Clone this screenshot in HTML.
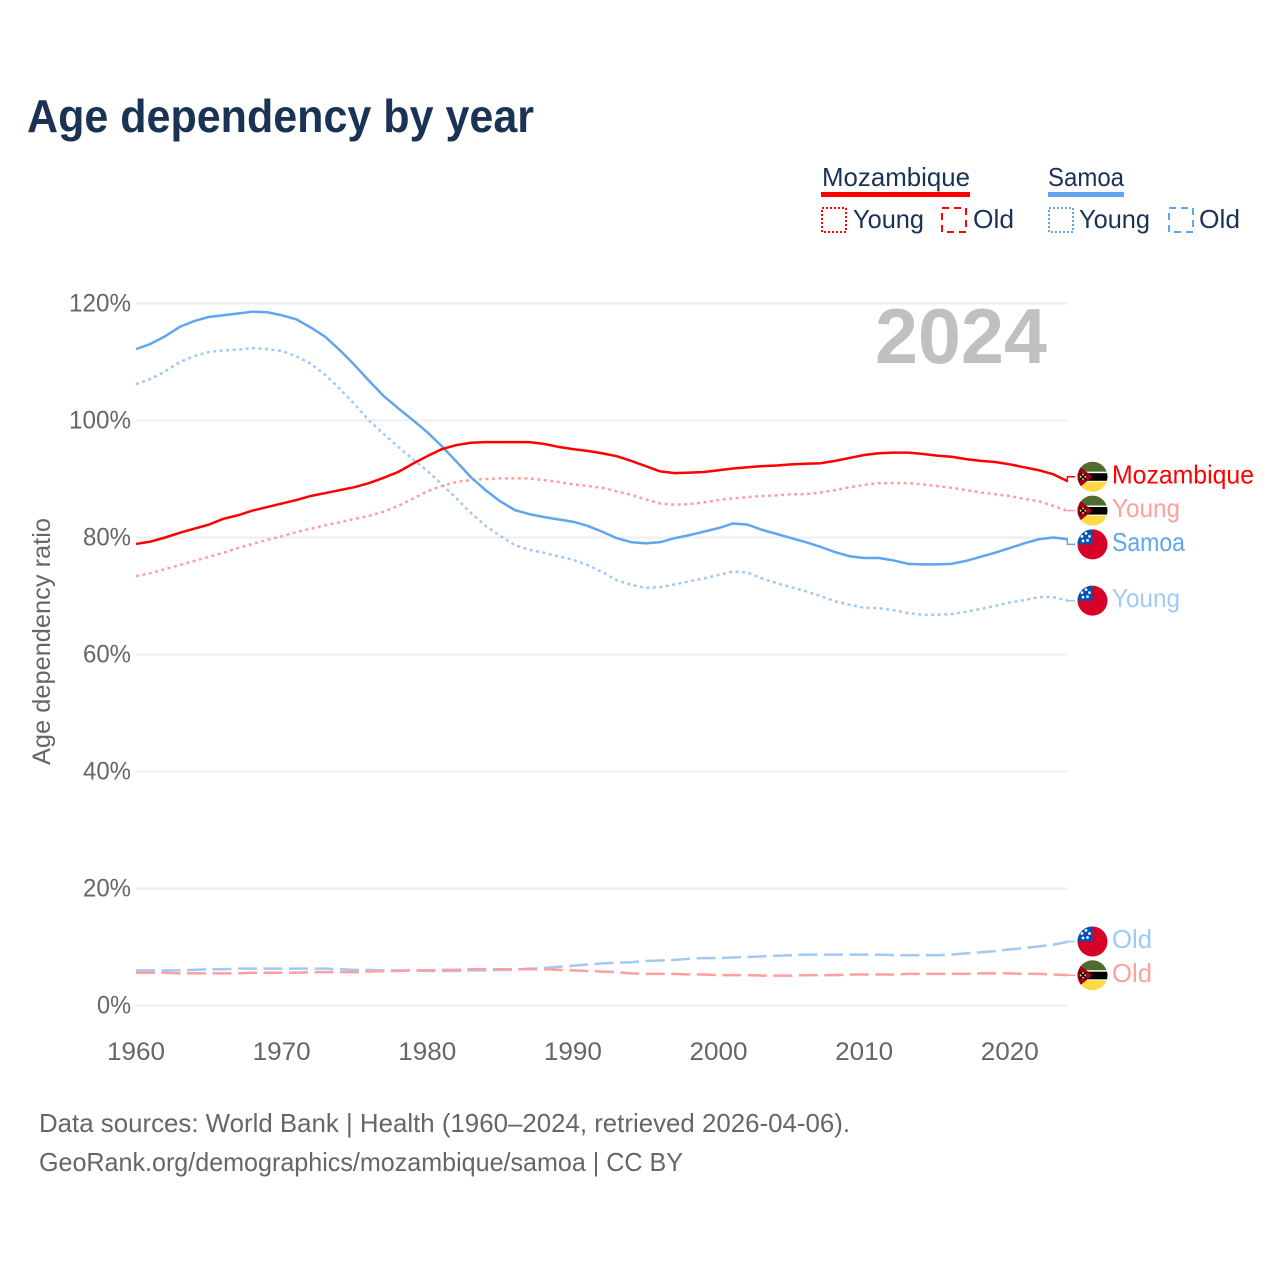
<!DOCTYPE html>
<html lang="en">
<head>
<meta charset="utf-8">
<title>Age dependency by year</title>
<style>
html,body{margin:0;padding:0;background:#fff;}
svg{display:block;font-family:"Liberation Sans",sans-serif;}
</style>
</head>
<body>
<svg id="chart" xmlns="http://www.w3.org/2000/svg" width="1280" height="1280" viewBox="0 0 1280 1280">
  <rect x="0" y="0" width="1280" height="1280" fill="#fff"/>
  <text x="27" y="132" font-size="46" font-weight="700" fill="#1a3354" textLength="507" lengthAdjust="spacingAndGlyphs">Age dependency by year</text>

  <g>
    <g>
      <text x="822" y="186" font-size="26" fill="#1a3354" textLength="148" lengthAdjust="spacingAndGlyphs">Mozambique</text>
      <rect x="821" y="192" width="149" height="5" fill="#ff0000"/>
      <rect x="822" y="208" width="24" height="24" fill="none" stroke="#ff0000" stroke-width="2" stroke-dasharray="2 2"/>
      <text x="853" y="228" font-size="26" fill="#1a3354" textLength="71" lengthAdjust="spacingAndGlyphs">Young</text>
      <rect x="942" y="208" width="24" height="24" fill="none" stroke="#ff0000" stroke-width="2" stroke-dasharray="7 5"/>
      <text x="973" y="228" font-size="26" fill="#1a3354" textLength="41" lengthAdjust="spacingAndGlyphs">Old</text>
    </g>
    <g>
      <text x="1048" y="186" font-size="26" fill="#1a3354" textLength="76" lengthAdjust="spacingAndGlyphs">Samoa</text>
      <rect x="1048" y="192" width="76" height="5" fill="#60a5ee"/>
      <rect x="1049" y="208" width="24" height="24" fill="none" stroke="#60a5ee" stroke-width="2" stroke-dasharray="2 2"/>
      <text x="1079" y="228" font-size="26" fill="#1a3354" textLength="71" lengthAdjust="spacingAndGlyphs">Young</text>
      <rect x="1169" y="208" width="24" height="24" fill="none" stroke="#60a5ee" stroke-width="2" stroke-dasharray="7 5"/>
      <text x="1199" y="228" font-size="26" fill="#1a3354" textLength="41" lengthAdjust="spacingAndGlyphs">Old</text>
    </g>
  </g>

  <g id="grid"></g>
  <text x="875" y="363" font-size="78" font-weight="700" fill="#c0c0c0" textLength="172" lengthAdjust="spacingAndGlyphs">2024</text>
  <g id="yticks"></g>
  <g id="xticks"></g>
  <text transform="translate(50,641.5) rotate(-90)" text-anchor="middle" font-size="25" fill="#666" textLength="247" lengthAdjust="spacingAndGlyphs">Age dependency ratio</text>
  <g id="series"></g>
  <g id="labels"></g>

  <text x="39" y="1132" font-size="26" fill="#666" textLength="811" lengthAdjust="spacingAndGlyphs">Data sources: World Bank | Health (1960–2024, retrieved 2026-04-06).</text>
  <text x="39" y="1171" font-size="26" fill="#666" textLength="644" lengthAdjust="spacingAndGlyphs">GeoRank.org/demographics/mozambique/samoa | CC BY</text>
</svg>
<script>
const startYear = 1960;
const endYear = 2024;
const xTickLabels = [1960, 1970, 1980, 1990, 2000, 2010, 2020];
const yTickLabels = [0, 20, 40, 60, 80, 100, 120];

const mozambiqueTotal = [78.9,79.3,80,80.8,81.5,82.2,83.2,83.8,84.6,85.2,85.8,86.4,87.1,87.6,88.1,88.6,89.3,90.2,91.2,92.6,93.9,95.1,95.8,96.2,96.3,96.3,96.3,96.3,96,95.5,95.1,94.8,94.4,93.9,93.1,92.2,91.3,91,91.1,91.2,91.5,91.8,92,92.2,92.3,92.5,92.6,92.7,93.1,93.6,94.1,94.4,94.5,94.5,94.3,94,93.8,93.4,93.1,92.9,92.5,92,91.5,90.8,89.6];
const mozambiqueYoung = [73.4,73.9,74.6,75.3,76,76.7,77.4,78.2,78.9,79.6,80.2,80.9,81.5,82.1,82.6,83.2,83.7,84.4,85.4,86.6,87.9,88.8,89.5,89.8,90,90.1,90.1,90.1,89.8,89.5,89.1,88.8,88.5,87.9,87.3,86.5,85.8,85.6,85.7,86,86.4,86.7,86.9,87.1,87.2,87.4,87.4,87.7,88.1,88.6,89,89.3,89.3,89.3,89.1,88.8,88.5,88.1,87.7,87.4,87.1,86.6,86.2,85.4,84.5];
const mozambiqueOld = [5.6,5.6,5.6,5.5,5.5,5.5,5.5,5.5,5.6,5.6,5.6,5.6,5.7,5.7,5.7,5.7,5.8,5.9,5.9,6,6,6.1,6.1,6.2,6.2,6.2,6.2,6.2,6.2,6.1,6,5.9,5.8,5.7,5.5,5.4,5.4,5.4,5.3,5.3,5.2,5.2,5.2,5.1,5.1,5.1,5.2,5.2,5.2,5.3,5.3,5.3,5.3,5.4,5.4,5.4,5.4,5.4,5.5,5.5,5.5,5.4,5.4,5.3,5.2];
const samoaTotal = [112.2,113.1,114.4,116,117,117.7,118,118.3,118.6,118.5,118,117.3,115.9,114.3,112,109.5,106.8,104.2,102.1,100.1,98,95.6,93,90.3,88.1,86.2,84.7,84,83.5,83.1,82.7,82,81,79.9,79.2,79,79.2,79.9,80.4,81,81.6,82.4,82.2,81.3,80.6,79.9,79.2,78.4,77.5,76.8,76.5,76.5,76.1,75.5,75.4,75.4,75.5,76,76.7,77.4,78.2,79,79.7,80,79.7];
const samoaYoung = [106.2,107.1,108.4,110,111,111.7,112,112.1,112.4,112.2,111.9,111,109.7,107.8,105.4,102.8,100,97.7,95.5,93.4,91.4,89.1,86.7,84.2,82,80.3,78.7,77.9,77.4,76.8,76.2,75.3,74.1,72.7,71.9,71.4,71.5,72,72.5,73,73.6,74.2,74,73,72.2,71.5,70.8,70,69.1,68.5,68,67.9,67.6,67.1,66.8,66.8,66.9,67.3,67.8,68.3,68.9,69.3,69.8,69.8,69.2];
const samoaOld = [6,6,6,6,6.1,6.2,6.2,6.3,6.3,6.3,6.3,6.3,6.3,6.3,6.2,6.1,6.1,6,6,6,5.9,5.9,5.9,6,6,6.1,6.1,6.3,6.4,6.6,6.8,7,7.2,7.3,7.4,7.6,7.7,7.8,8,8.1,8.1,8.2,8.3,8.4,8.5,8.6,8.7,8.7,8.7,8.7,8.7,8.7,8.6,8.6,8.6,8.6,8.7,8.9,9.1,9.3,9.6,9.8,10.1,10.4,10.9];

const NS = 'http://www.w3.org/2000/svg';
const x = function (year) { return 136 + (year - startYear) * (1068 - 136) / (endYear - startYear); };
const y = function (value) { return 1005.5 - value * 5.85; };

function make(tag, attrs, parent, txt) {
  const el = document.createElementNS(NS, tag);
  for (const k in attrs) el.setAttribute(k, attrs[k]);
  if (txt !== undefined) el.textContent = txt;
  parent.appendChild(el);
  return el;
}

const grid = document.getElementById('grid');
const yticks = document.getElementById('yticks');
const xticks = document.getElementById('xticks');

yTickLabels.forEach(function (v) {
  const line = make('line', { x1: 136, x2: 1068, y1: y(v), y2: y(v), stroke: '#eeeeee', 'stroke-width': 2 }, grid);
  
  
  const label = String(v) + '%';
  const t = make('text', {
    x: 131, y: y(v) + 8, 'text-anchor': 'end', 'font-size': 25, fill: '#666',
    textLength: (label.length - 1) * 14 + 20, lengthAdjust: 'spacingAndGlyphs'
  }, yticks, label);
  
  
});

xTickLabels.forEach(function (yr) {
  const t = make('text', {
    x: x(yr), y: 1060, 'text-anchor': 'middle', 'font-size': 25, fill: '#666',
    textLength: 58, lengthAdjust: 'spacingAndGlyphs'
  }, xticks, String(yr));
  
  
});

const seriesGroup = document.getElementById('series');
const labelsGroup = document.getElementById('labels');
const RED = '#ff0000', BLUE = '#60a5ee', LRED = '#ff9f9f', LBLUE = '#a0c9f6';
const DOT = '3 3.5', DASH = '19 6.5';

const seriesList = [
  { key: 'samoa-old', values: samoaOld, color: LBLUE, dash: DASH, label: 'Old', flag: 'sam', w: 40 },
  { key: 'mozambique-old', values: mozambiqueOld, color: LRED, dash: DASH, label: 'Old', flag: 'moz', w: 40 },
  { key: 'samoa-young', values: samoaYoung, color: LBLUE, dash: DOT, label: 'Young', flag: 'sam', w: 68 },
  { key: 'mozambique-young', values: mozambiqueYoung, color: LRED, dash: DOT, label: 'Young', flag: 'moz', w: 68 },
  { key: 'samoa-total', values: samoaTotal, color: BLUE, dash: '', label: 'Samoa', flag: 'sam', w: 73 },
  { key: 'mozambique-total', values: mozambiqueTotal, color: RED, dash: '', label: 'Mozambique', flag: 'moz', w: 142 }
];

seriesList.forEach(function (s) {
  const d = s.values.map(function (v, i) {
    return (i ? 'L' : 'M') + x(startYear + i).toFixed(2) + ' ' + y(v).toFixed(2);
  }).join('');
  const attrs = { d: d, fill: 'none', stroke: s.color, 'stroke-width': 2.5, 'stroke-linejoin': 'round' };
  if (s.dash) attrs['stroke-dasharray'] = s.dash;
  const p = make('path', attrs, seriesGroup);
  
  
});

/* Resolve end-label collisions by merging overlapping labels into centred clusters. */
const SPACING = 33.8;
const ends = seriesList.map(function (s) {
  return { s: s, endY: y(s.values[s.values.length - 1]) };
}).sort(function (a, b) { return a.endY - b.endY; });
let clusters = ends.map(function (e) { return { items: [e], center: e.endY }; });
let merged = true;
while (merged) {
  merged = false;
  for (let i = 0; i < clusters.length - 1; i++) {
    const a = clusters[i], b = clusters[i + 1];
    const aBottom = a.center + (a.items.length - 1) * SPACING / 2;
    const bTop = b.center - (b.items.length - 1) * SPACING / 2;
    if (bTop - aBottom < SPACING) {
      const items = a.items.concat(b.items);
      const center = items.reduce(function (t, e) { return t + e.endY; }, 0) / items.length;
      clusters.splice(i, 2, { items: items, center: center });
      merged = true;
      break;
    }
  }
}

let clipCount = 0;
function drawFlag(kind, cy, parent) {
  clipCount += 1;
  const id = 'flag-clip-' + clipCount;
  const g = make('g', { transform: 'translate(1092.5,' + cy.toFixed(2) + ')' }, parent);
  
  
  const defs = make('defs', {}, g);
  const clip = make('clipPath', { id: id }, defs);
  make('circle', { cx: 0, cy: 0, r: 15 }, clip);
  const c = make('g', { 'clip-path': 'url(#' + id + ')' }, g);
  if (kind === 'moz') {
    make('rect', { x: -16, y: -16, width: 32, height: 11, fill: '#4f6b2f' }, c);
    make('rect', { x: -16, y: -5, width: 32, height: 10, fill: '#ffffff' }, c);
    make('rect', { x: -16, y: -3.6, width: 32, height: 7.6, fill: '#000000' }, c);
    make('rect', { x: -16, y: 5, width: 32, height: 11, fill: '#ffda44' }, c);
    make('path', { d: 'M-16 -13L0 0L-16 13Z', fill: '#a2001d' }, c);
    make('circle', { cx: -9.5, cy: 0, r: 3, fill: '#ffda44' }, c);
    make('path', { d: 'M-13 -3.5L-6 3.5M-6 -3.5L-13 3.5', stroke: '#000', 'stroke-width': 1.5, fill: 'none' }, c);
  } else {
    make('rect', { x: -16, y: -16, width: 32, height: 32, fill: '#d80027' }, c);
    make('rect', { x: -16, y: -16, width: 16, height: 16, fill: '#0052b4' }, c);
    [[-6.5, -11], [-3, -8], [-5, -4], [-9.5, -3.5], [-10.5, -8]].forEach(function (p) {
      make('circle', { cx: p[0], cy: p[1], r: 1.4, fill: '#ffffff' }, c);
    });
  }
}

clusters.forEach(function (cl) {
  cl.items.forEach(function (e, i) {
    const ly = cl.center + (i - (cl.items.length - 1) / 2) * SPACING;
    const s = e.s;
    const conn = make('path', {
      d: 'M1067 ' + e.endY.toFixed(2) + 'L1067.5 ' + ly.toFixed(2) + 'L1075 ' + ly.toFixed(2),
      fill: 'none', stroke: s.color, 'stroke-width': 1.5
    }, labelsGroup);
    
    
    drawFlag(s.flag, ly, labelsGroup);
    const t = make('text', {
      x: 1112, y: ly + 6.5, 'font-size': 26, fill: s.color,
      textLength: s.w, lengthAdjust: 'spacingAndGlyphs'
    }, labelsGroup, s.label);
    
    
  });
});
</script>
</body>
</html>
